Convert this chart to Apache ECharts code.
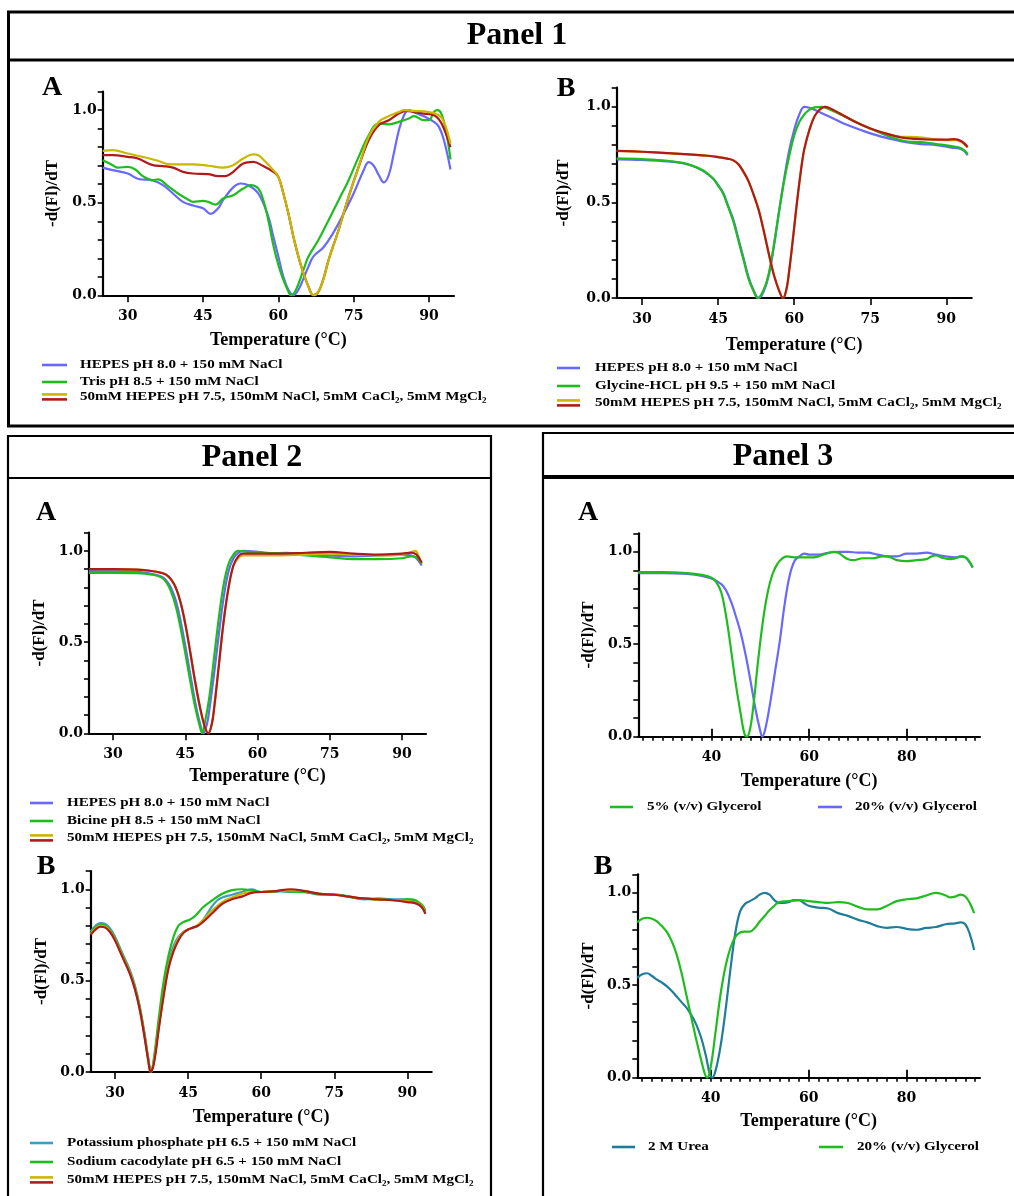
<!DOCTYPE html>
<html><head><meta charset="utf-8">
<script src="https://cdn.jsdelivr.net/npm/echarts@6/dist/echarts.min.js"></script>
<style>html,body{margin:0;padding:0;background:#fff}#c{width:1014px;height:1196px}</style>
</head><body><div id="c"></div><script>
// ---------- tick / label values ----------
const xLabels12 = [30, 45, 60, 75, 90];
const xLabels3 = [40, 60, 80];
const xMinorTicks3 = [26,28,30,32,34,36,38,40,42,44,46,48,50,52,54,56,58,60,62,64,66,68,70,72,74,76,78,80,82,84,86,88,90,92,94];
const yLabels = [0, 0.5, 1.0];
const yTicks = [0, 0.1, 0.2, 0.3, 0.4, 0.5, 0.6, 0.7, 0.8, 0.9, 1.0, 1.1];

// ---------- Panel 1A ----------
const p1aHepes = [[25,0.69],[27,0.676],[30,0.658],[32,0.63],[35,0.62],[37,0.595],[39,0.55],[41,0.505],[43,0.485],[45,0.47],[46.5,0.44],[48,0.47],[49,0.515],[51,0.583],[52.5,0.604],[54,0.595],[56,0.55],[58,0.425],[59,0.317],[60,0.21],[61,0.1],[62,0.03],[63,0],[64,0.03],[65,0.09],[66,0.155],[67,0.21],[69,0.26],[71,0.34],[73,0.44],[75,0.55],[77,0.676],[78,0.72],[79,0.70],[80,0.65],[81,0.61],[82,0.65],[83,0.766],[84,0.89],[85,0.97],[86,1.0],[87,0.99],[89,0.967],[91,0.937],[92,0.91],[93,0.838],[94.3,0.68]];
const p1aTris = [[25,0.73],[27,0.703],[28,0.69],[30,0.694],[31.5,0.68],[33,0.644],[35,0.622],[36,0.626],[38,0.59],[40,0.55],[42,0.518],[43,0.505],[45,0.51],[46,0.505],[47.5,0.49],[49,0.523],[51,0.541],[53,0.577],[54.5,0.595],[56,0.577],[57,0.515],[58,0.406],[59,0.27],[60,0.164],[61,0.083],[62,0.02],[62.5,0],[63.5,0.029],[65,0.137],[66,0.209],[68,0.3],[70,0.406],[72,0.514],[74,0.622],[76,0.748],[78,0.865],[80,0.928],[82,0.924],[84,0.937],[86,0.955],[87,0.968],[89,0.946],[90,0.946],[91,0.99],[91.7,1.0],[92.5,0.98],[93.5,0.874],[94.3,0.734]];
const p1aRefYellow = [[25,0.78],[27,0.784],[30,0.766],[33,0.748],[36,0.727],[38,0.709],[40,0.707],[43,0.707],[46,0.70],[49,0.69],[51,0.703],[53,0.739],[55,0.761],[56,0.757],[57,0.734],[59,0.676],[60,0.64],[61,0.55],[62,0.442],[63,0.317],[64,0.209],[65,0.119],[66,0.047],[67,0],[68,0.02],[69,0.09],[70,0.19],[72,0.353],[74,0.532],[76,0.694],[78,0.856],[80,0.937],[82,0.968],[84,0.99],[85,1.0],[87,0.996],[90,0.99],[92,0.973],[93,0.937],[94.3,0.82]];
const p1aRefRed = [[25,0.757],[27,0.757],[30,0.748],[32,0.739],[35,0.703],[37,0.698],[39,0.69],[41,0.667],[43,0.658],[46,0.655],[48,0.644],[49.5,0.644],[51,0.667],[53,0.712],[55,0.721],[57,0.698],[59,0.667],[60,0.64],[61,0.55],[62,0.442],[63,0.317],[64,0.209],[65,0.119],[66,0.047],[67,0],[68,0.02],[69,0.09],[70,0.19],[72,0.353],[74,0.532],[76,0.694],[78,0.838],[80,0.919],[82,0.946],[84,0.982],[85.5,0.996],[87,0.99],[89,0.982],[91,0.973],[92,0.95],[93,0.90],[94.3,0.80]];

// ---------- Panel 1B ----------
const p1bHepes = [[25,0.725],[30,0.722],[35,0.715],[38,0.705],[40,0.69],[42,0.665],[44,0.625],[45,0.59],[46,0.55],[47,0.48],[48,0.41],[49,0.31],[50,0.21],[51,0.11],[52,0.04],[53,0],[54,0.035],[55,0.12],[56,0.27],[57,0.45],[58,0.62],[59,0.77],[60,0.88],[61,0.96],[62,1.0],[63,0.995],[64,0.985],[66,0.96],[68,0.935],[70,0.91],[73,0.88],[76,0.853],[79,0.832],[82,0.815],[85,0.805],[88,0.80],[91,0.787],[92.5,0.782],[93.5,0.77],[94.2,0.747]];
const p1bGlycine = [[25,0.73],[30,0.726],[35,0.718],[38,0.707],[40,0.692],[42,0.668],[44,0.625],[45,0.588],[46,0.545],[47,0.475],[48,0.40],[49,0.30],[50,0.2],[51,0.1],[52,0.035],[52.8,0],[54,0.045],[55,0.13],[56,0.28],[57,0.45],[58,0.61],[59,0.74],[60,0.85],[61,0.92],[62,0.96],[63,0.985],[64,0.997],[65.5,1.0],[67,0.986],[70,0.948],[73,0.909],[76,0.875],[79,0.842],[82,0.82],[85,0.815],[88,0.805],[91,0.794],[93,0.782],[94.2,0.753]];
const p1bRefYellow = [[25,0.77],[30,0.765],[35,0.758],[40,0.75],[43,0.744],[45,0.737],[47,0.728],[48,0.72],[49,0.70],[50,0.66],[51,0.61],[52,0.54],[53,0.46],[54,0.35],[55,0.23],[56,0.12],[57,0.04],[57.8,0],[58.5,0.05],[59,0.14],[59.5,0.25],[60,0.37],[60.5,0.49],[61,0.6],[61.5,0.7],[62,0.78],[63,0.88],[64,0.95],[65,0.985],[66,1.0],[67,0.993],[69,0.965],[72,0.922],[75,0.887],[78,0.861],[81,0.843],[84,0.842],[86,0.836],[88,0.83],[90,0.826],[92,0.826],[93,0.815],[94.2,0.787]];
const p1bRefRed = [[25,0.77],[30,0.765],[35,0.758],[40,0.75],[43,0.744],[45,0.737],[47,0.728],[48,0.72],[49,0.70],[50,0.66],[51,0.61],[52,0.54],[53,0.46],[54,0.35],[55,0.23],[56,0.12],[57,0.04],[57.8,0],[58.5,0.05],[59,0.14],[59.5,0.25],[60,0.37],[60.5,0.49],[61,0.6],[61.5,0.7],[62,0.78],[63,0.88],[64,0.95],[65,0.985],[66,1.0],[67,0.993],[69,0.965],[72,0.922],[75,0.887],[78,0.861],[81,0.84],[84,0.832],[86,0.829],[88,0.828],[90,0.828],[91.5,0.831],[93,0.82],[94.2,0.79]];

// ---------- Panel 2A ----------
const p2aHepes = [[25,0.89],[30,0.89],[35,0.885],[38,0.875],[40,0.86],[41,0.84],[42,0.80],[43,0.73],[44,0.62],[45,0.48],[46,0.33],[47,0.18],[48,0.06],[48.8,0],[49.5,0.05],[50,0.13],[51,0.33],[52,0.55],[53,0.75],[54,0.89],[55,0.96],[56,0.99],[57,1.0],[60,0.995],[63,0.985],[66,0.99],[70,0.98],[75,0.975],[80,0.97],[85,0.975],[90,0.98],[92,0.975],[93,0.96],[94.1,0.92]];
const p2aBicine = [[25,0.88],[30,0.88],[35,0.878],[38,0.87],[40,0.855],[41,0.83],[42,0.78],[43,0.70],[44,0.58],[45,0.44],[46,0.29],[47,0.15],[48,0.04],[48.5,0],[49,0.05],[50,0.2],[51,0.42],[52,0.64],[53,0.82],[54,0.93],[55,0.98],[56,1.0],[58,0.995],[62,0.99],[66,0.985],[70,0.975],[75,0.965],[80,0.955],[85,0.955],[90,0.96],[92,0.97],[93,0.965],[94.1,0.93]];
const p2aRefYellow = [[25,0.90],[30,0.90],[35,0.897],[38,0.89],[40,0.88],[41,0.87],[42,0.845],[43,0.80],[44,0.72],[45,0.60],[46,0.45],[47,0.29],[48,0.15],[49,0.04],[49.8,0],[50.5,0.05],[51,0.14],[52,0.38],[53,0.62],[54,0.80],[55,0.92],[56,0.96],[57,0.975],[60,0.975],[65,0.975],[70,0.98],[75,0.985],[80,0.98],[85,0.975],[90,0.98],[92,0.995],[92.8,1.0],[93.5,0.97],[94.1,0.935]];
const p2aRefRed = [[25,0.90],[30,0.90],[35,0.897],[38,0.89],[40,0.88],[41,0.87],[42,0.845],[43,0.80],[44,0.72],[45,0.60],[46,0.45],[47,0.29],[48,0.15],[49,0.04],[49.8,0],[50.5,0.05],[51,0.14],[52,0.38],[53,0.62],[54,0.80],[55,0.92],[56,0.97],[57,0.985],[60,0.985],[65,0.985],[70,0.99],[75,0.995],[80,0.985],[85,0.98],[90,0.985],[92,0.99],[93,0.98],[94.1,0.935]];

// ---------- Panel 2B ----------
const p2bKPhos = [[25,0.77],[26,0.80],[27,0.815],[28,0.81],[29,0.785],[30,0.74],[31,0.68],[32,0.62],[33,0.56],[34,0.48],[35,0.37],[36,0.22],[36.8,0.08],[37.4,0],[38,0.07],[39,0.27],[40,0.46],[41,0.6],[42,0.69],[43,0.74],[44,0.765],[45,0.78],[46,0.79],[47,0.80],[48,0.83],[49,0.87],[50,0.91],[51,0.94],[52,0.955],[54,0.97],[56,0.985],[58,1.0],[60,0.985],[62,0.985],[64,0.99],[66,0.985],[68,0.99],[70,0.98],[72,0.97],[75,0.97],[78,0.96],[81,0.945],[84,0.95],[87,0.945],[90,0.945],[91,0.94],[92,0.93],[93,0.91],[93.7,0.88]];
const p2bNaCaco = [[25,0.76],[26,0.79],[27,0.805],[28,0.80],[29,0.775],[30,0.73],[31,0.67],[32,0.61],[33,0.55],[34,0.47],[35,0.36],[36,0.21],[36.8,0.07],[37.4,0],[38,0.08],[39,0.3],[40,0.5],[41,0.64],[42,0.74],[43,0.8],[44,0.82],[45,0.83],[46,0.845],[47,0.87],[48,0.9],[50,0.94],[52,0.975],[54,0.995],[56,1.0],[58,0.995],[60,0.985],[64,0.99],[68,0.985],[72,0.975],[76,0.97],[80,0.95],[84,0.945],[88,0.94],[90,0.945],[91,0.945],[92,0.935],[93,0.915],[93.7,0.885]];
const p2bRefYellow = [[25,0.755],[26,0.785],[27,0.80],[28,0.795],[29,0.77],[30,0.725],[31,0.665],[32,0.605],[33,0.545],[34,0.465],[35,0.355],[36,0.205],[36.8,0.07],[37.3,0],[38,0.06],[39,0.25],[40,0.43],[41,0.58],[42,0.67],[43,0.73],[44,0.765],[45,0.78],[46,0.79],[47,0.805],[48,0.83],[50,0.885],[52,0.93],[54,0.955],[56,0.975],[58,0.985],[60,0.985],[63,0.99],[66,0.995],[69,0.99],[72,0.975],[75,0.97],[78,0.96],[81,0.95],[84,0.945],[87,0.94],[90,0.935],[92,0.925],[93,0.905],[93.7,0.87]];
const p2bRefRed = [[25,0.75],[26,0.78],[27,0.795],[28,0.79],[29,0.765],[30,0.72],[31,0.66],[32,0.60],[33,0.54],[34,0.46],[35,0.35],[36,0.2],[36.8,0.065],[37.3,0],[38,0.05],[39,0.24],[40,0.42],[41,0.57],[42,0.66],[43,0.72],[44,0.76],[45,0.78],[46,0.79],[47,0.8],[48,0.82],[50,0.87],[52,0.92],[54,0.945],[56,0.96],[58,0.98],[60,0.985],[63,0.99],[66,1.0],[69,0.99],[72,0.975],[75,0.97],[78,0.96],[81,0.95],[84,0.945],[87,0.94],[90,0.93],[92,0.92],[93,0.9],[93.7,0.865]];

// ---------- Panel 3A ----------
const p3aGly5 = [[25,0.89],[30,0.89],[35,0.885],[38,0.875],[40,0.86],[41,0.835],[42,0.78],[43,0.65],[44,0.47],[45,0.28],[46,0.12],[46.7,0.02],[47.2,0],[47.8,0.03],[48.5,0.15],[49.5,0.4],[50.5,0.62],[51.5,0.78],[52.5,0.88],[53.5,0.935],[54.5,0.965],[55.5,0.975],[57,0.97],[59,0.97],[61,0.97],[63,0.985],[65,1.0],[66,0.995],[67,0.975],[68,0.96],[69,0.955],[71,0.965],[73,0.965],[75,0.975],[76,0.975],[78,0.955],[80,0.95],[82,0.955],[84,0.96],[85,0.975],[86,0.98],[87,0.97],[89,0.96],[90,0.965],[91,0.975],[92,0.97],[92.8,0.95],[93.5,0.915]];
const p3aGly20 = [[25,0.885],[30,0.885],[35,0.88],[38,0.87],[40,0.855],[42,0.825],[43,0.79],[44,0.73],[45,0.65],[46,0.56],[47,0.44],[48,0.3],[49,0.15],[50,0.03],[50.4,0],[51,0.04],[52,0.18],[53,0.35],[54,0.52],[55,0.72],[56,0.87],[57,0.95],[58,0.975],[59,0.99],[60,0.985],[62,0.985],[64,0.995],[66,1.0],[68,1.0],[70,0.995],[72,0.995],[74,0.985],[76,0.975],[78,0.975],[80,0.99],[82,0.99],[84,0.995],[86,0.985],[88,0.975],[90,0.97],[91.5,0.975],[92.5,0.955],[93.5,0.915]];

// ---------- Panel 3B ----------
const p3bUrea = [[25,0.54],[26,0.56],[27,0.565],[28,0.55],[29,0.53],[30,0.515],[31,0.495],[32,0.47],[33,0.44],[34,0.41],[35,0.38],[36,0.34],[37,0.29],[38,0.22],[39,0.12],[39.8,0.02],[40.3,0],[41,0.04],[42,0.17],[43,0.36],[44,0.58],[45,0.78],[46,0.9],[47,0.94],[48,0.955],[49,0.97],[50,0.99],[51,1.0],[52,0.99],[53,0.96],[54,0.945],[55,0.945],[56,0.95],[57,0.96],[58,0.96],[59,0.945],[60,0.93],[62,0.92],[64,0.915],[66,0.89],[68,0.875],[70,0.855],[72,0.84],[74,0.82],[76,0.81],[78,0.815],[80,0.805],[82,0.8],[84,0.81],[86,0.815],[88,0.83],[90,0.835],[91,0.84],[92,0.83],[93,0.77],[93.8,0.69]];
const p3bGly20 = [[25,0.84],[26,0.86],[27,0.865],[28,0.86],[29,0.845],[30,0.82],[31,0.79],[32,0.74],[33,0.67],[34,0.57],[35,0.45],[36,0.33],[37,0.21],[38,0.1],[38.8,0.02],[39.3,0],[40,0.06],[41,0.25],[42,0.45],[43,0.6],[44,0.7],[45,0.76],[46,0.785],[47,0.79],[48,0.79],[49,0.81],[50,0.845],[51,0.875],[52,0.905],[53,0.93],[54,0.95],[56,0.955],[58,0.96],[60,0.955],[62,0.95],[64,0.945],[66,0.95],[68,0.945],[70,0.925],[72,0.91],[74,0.91],[76,0.93],[78,0.955],[80,0.965],[82,0.97],[84,0.985],[86,1.0],[87,0.995],[88,0.985],[89,0.975],[90,0.98],[91,0.99],[92,0.98],[93,0.94],[93.8,0.89]];

// ---------- legend names ----------
const nmHepes8 = 'HEPES pH 8.0 + 150 mM NaCl';
const nmTris = 'Tris pH 8.5 + 150 mM NaCl';
const nmGlycine = 'Glycine-HCL pH 9.5 + 150 mM NaCl';
const nmBicine = 'Bicine pH 8.5 + 150 mM NaCl';
const nmKPhos = 'Potassium phosphate pH 6.5 + 150 mM NaCl';
const nmNaCaco = 'Sodium cacodylate pH 6.5 + 150 mM NaCl';
const nmRef = '50mM HEPES pH 7.5, 150mM NaCl, 5mM CaCl\u2082, 5mM MgCl\u2082';
const nmGly5 = '5% (v/v) Glycerol';
const nmGly20 = '20% (v/v) Glycerol';
const nmUrea = '2 M Urea';

// ---------- styling ----------
const FONT = '"Liberation Serif","Times New Roman",serif';
const TICKFONT = '"DejaVu Serif","Liberation Serif",serif';
const C = {blue:'#6868ff', green:'#1ebd1e', yellow:'#c9b700', red:'#b01a1a', teal:'#3a9ec0', tealDark:'#1f7c9a'};

const grids = [
  {left:102.7, top:91.7, width:351.3, height:203.6},
  {left:616.7, top:87.7, width:355, height:210.3},
  {left:89, top:532.7, width:337, height:200.6},
  {left:90.7, top:871, width:341, height:201},
  {left:638.3, top:533.3, width:341.7, height:203.4},
  {left:637.3, top:874.3, width:342.7, height:203.4}
];
const xNameGaps = [36, 38, 34.5, 36, 36, 35];
const yNameGaps = [42, 45, 40.5, 40.5, 41.5, 40.5];

const xAxes = grids.map((g, i) => ({
  type:'value', gridIndex:i, min:25, max:95,
  axisLine:{show:true, onZero:false, lineStyle:{color:'#000', width:2.2}},
  splitLine:{show:false},
  axisTick:{show:true, customValues: i < 4 ? xLabels12 : xMinorTicks3, length: i < 4 ? 7 : 4, lineStyle:{color:'#000', width:1.6}},
  axisLabel:{customValues: i < 4 ? xLabels12 : xLabels3, color:'#000', fontFamily:TICKFONT, fontWeight:'bold', fontSize:14, margin:14},
  name:'Temperature (\u00B0C)', nameLocation:'middle', nameGap:xNameGaps[i],
  nameTextStyle:{color:'#000', fontFamily:FONT, fontWeight:'bold', fontSize:18}
}));
// major tick overlays for panel 3
[4,5].forEach(gi => xAxes.push({
  type:'value', gridIndex:gi, min:25, max:95,
  axisLine:{show:false}, splitLine:{show:false}, axisLabel:{show:false},
  axisTick:{show:true, customValues:xLabels3, length:8, lineStyle:{color:'#000', width:1.8}}
}));

const yAxes = grids.map((g, i) => ({
  type:'value', gridIndex:i, min:0, max:1.1,
  axisLine:{show:true, onZero:false, lineStyle:{color:'#000', width:2.2}},
  splitLine:{show:false},
  axisTick:{show:true, customValues:yTicks, length:5, lineStyle:{color:'#000', width:1.6}},
  axisLabel:{customValues:yLabels, formatter:v => v.toFixed(1), color:'#000', fontFamily:TICKFONT, fontWeight:'bold', fontSize:14, margin:6},
  name:'-d(Fl)/dT', nameLocation:'middle', nameGap:yNameGaps[i], nameRotate:90,
  nameTextStyle:{color:'#000', fontFamily:FONT, fontWeight:'bold', fontSize:17}
}));

function S(name, data, color, gi) {
  return {type:'line', name, data, xAxisIndex:gi, yAxisIndex:gi, smooth:0.4, showSymbol:false, symbol:'none',
    lineStyle:{color, width:2.2}, itemStyle:{color}, emphasis:{disabled:true}};
}
const series = [
  S(nmHepes8, p1aHepes, C.blue, 0), S(nmTris, p1aTris, C.green, 0), S(nmRef, p1aRefRed, C.red, 0), S(nmRef, p1aRefYellow, C.yellow, 0),
  S(nmHepes8, p1bHepes, C.blue, 1), S(nmGlycine, p1bGlycine, C.green, 1), S(nmRef, p1bRefYellow, C.yellow, 1), S(nmRef, p1bRefRed, C.red, 1),
  S(nmHepes8, p2aHepes, C.blue, 2), S(nmBicine, p2aBicine, C.green, 2), S(nmRef, p2aRefYellow, C.yellow, 2), S(nmRef, p2aRefRed, C.red, 2),
  S(nmKPhos, p2bKPhos, C.teal, 3), S(nmNaCaco, p2bNaCaco, C.green, 3), S(nmRef, p2bRefYellow, C.yellow, 3), S(nmRef, p2bRefRed, C.red, 3),
  S(nmGly20, p3aGly20, C.blue, 4), S(nmGly5, p3aGly5, C.green, 4),
  S(nmUrea, p3bUrea, C.tealDark, 5), S(nmGly20, p3bGly20, C.green, 5)
];

// ---------- graphic: frames, titles, letters, legends ----------
const G = [];
function rect(x, y, w, h, lw) { G.push({type:'rect', shape:{x, y, width:w, height:h}, style:{fill:'none', stroke:'#000', lineWidth:lw}, z:1}); }
function hline(x1, x2, y, lw, color) { G.push({type:'line', shape:{x1, y1:y, x2, y2:y}, style:{stroke:color || '#000', lineWidth:lw}, z:1}); }
function text(t, x, y, size, align, sx) {
  G.push({type:'text', x, y, scaleX: sx || 1, z:5,
    style:{text:t, x:0, y:0, fill:'#000', font:'bold ' + size + 'px ' + FONT, align: align || 'center', verticalAlign:'middle'}});
}
function legendRow(x1, x2, tx, y, color, label) {
  hline(x1, x2, y, 2.6, color);
  text(label, tx, y, 13, 'left', 1.16);
}
function legendRef(x1, x2, tx, y, label) {
  hline(x1, x2, y - 2.6, 2.6, C.yellow);
  hline(x1, x2, y + 2.4, 2.6, C.red);
  text(label, tx, y, 13, 'left', 1.16);
}

// frames
rect(8.5, 12, 1020, 414, 3);
hline(8, 1014, 60, 3);
rect(8, 436, 483, 800, 2.2);
hline(8, 491, 478, 2.2);
rect(543, 433, 500, 800, 2.2);
hline(543, 1014, 477, 4);

// titles
text('Panel 1', 517, 36, 32);
text('Panel 2', 252, 458, 32);
text('Panel 3', 783, 457, 32);

// letters
text('A', 52, 88, 28);
text('B', 566, 89, 28);
text('A', 46, 513, 28);
text('B', 46, 867, 28);
text('A', 588, 513, 28);
text('B', 603, 867, 28);

// legends
legendRow(42, 67, 80, 365, C.blue, nmHepes8);
legendRow(42, 67, 80, 382, C.green, nmTris);
legendRef(42, 67, 80, 397, nmRef);

legendRow(557, 580, 595, 368, C.blue, nmHepes8);
legendRow(557, 580, 595, 386, C.green, nmGlycine);
legendRef(557, 580, 595, 403, nmRef);

legendRow(30, 53, 67, 803, C.blue, nmHepes8);
legendRow(30, 53, 67, 821, C.green, nmBicine);
legendRef(30, 53, 67, 838, nmRef);

legendRow(30, 53, 67, 1143, C.teal, nmKPhos);
legendRow(30, 53, 67, 1162, C.green, nmNaCaco);
legendRef(30, 53, 67, 1180, nmRef);

legendRow(610, 633, 647, 807, C.green, nmGly5);
legendRow(818, 842, 855, 807, C.blue, nmGly20);

legendRow(612, 635, 648, 1147, C.tealDark, nmUrea);
legendRow(819, 843, 857, 1147, C.green, nmGly20);

const chart = echarts.init(document.getElementById('c'), null, {renderer:'canvas'});
chart.setOption({
  animation:false,
  backgroundColor:'#fff',
  grid: grids.map(g => Object.assign({containLabel:false}, g)),
  xAxis: xAxes,
  yAxis: yAxes,
  series,
  graphic: G
});
</script></body></html>
